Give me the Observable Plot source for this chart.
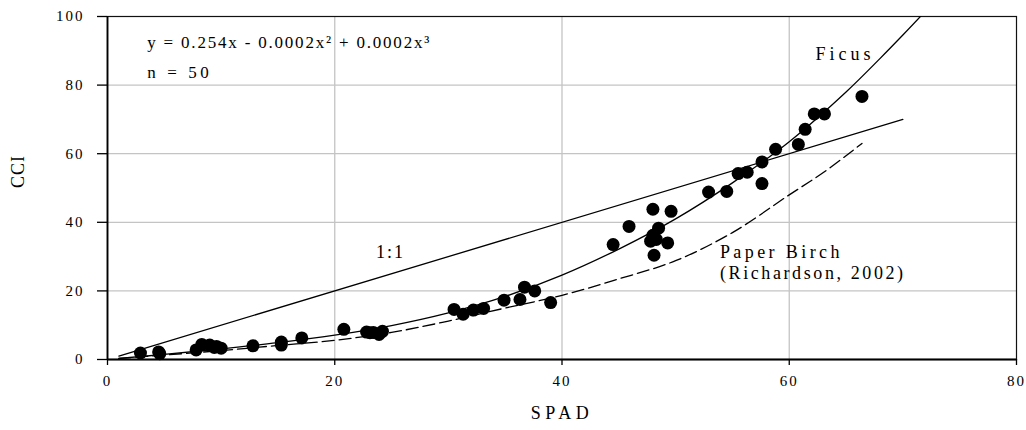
<!DOCTYPE html>
<html>
<head>
<meta charset="utf-8">
<script src="https://cdn.jsdelivr.net/npm/d3@7"></script>
<script src="https://cdn.jsdelivr.net/npm/@observablehq/plot@0.6"></script>
<style>
  html, body { margin: 0; padding: 0; background: #fff; }
  #chart svg { display: block; }
  #chart svg text { font-family: "Liberation Serif", "DejaVu Serif", "Times New Roman", serif !important; }
</style>
</head>
<body>
<div id="chart"></div>
<script>
// Measured points: SPAD (x) vs CCI (y)
const spad = [2.9, 4.5, 4.6, 7.8, 8.3, 9.0, 9.6, 10.0, 12.8, 15.3, 15.3, 17.1, 20.8, 22.8, 23.4, 23.9, 24.2,
  30.5, 31.3, 32.2, 33.1, 34.9, 36.3, 36.7, 37.6, 39.0, 44.5, 45.9, 48.0, 49.6, 48.5, 48.0, 47.8, 49.3, 48.1,
  52.9, 54.5, 55.5, 56.3, 57.6, 57.6, 58.8, 60.8, 61.4, 62.2, 63.1, 66.4, 9.4, 48.3, 23.1];
const cci = [1.9, 2.2, 1.7, 2.8, 4.4, 4.2, 3.8, 3.3, 4.0, 5.1, 4.2, 6.3, 8.8, 8.0, 7.9, 7.3, 8.2,
  14.6, 13.2, 14.4, 14.9, 17.3, 17.5, 21.1, 20.0, 16.6, 33.5, 38.8, 43.8, 43.2, 38.3, 36.2, 34.5, 34.0, 30.4,
  48.8, 49.0, 54.2, 54.6, 57.6, 51.3, 61.3, 62.7, 67.1, 71.6, 71.6, 76.7, 3.5, 35.0, 7.8];

// Ficus fitted curve
const ficusX = [1, 5, 10, 15, 20, 25, 30, 35, 40, 45, 50, 55, 60, 65, 68, 70, 71.8];
const ficusY = [0.3, 1.5, 3.1, 4.9, 7.1, 9.9, 13.6, 18.4, 24.6, 32.2, 41, 51.5, 63.5, 78, 87.8, 94.6, 100.9];

// Paper Birch curve (Richardson, 2002)
const birchX = [1, 5, 10, 15, 20, 25, 30, 35, 40, 45, 50, 55, 60, 63, 66.4];
const birchY = [0.3, 1.3, 2.6, 4.1, 5.6, 7.9, 11.2, 15.0, 18.7, 23.5, 28.8, 37, 48, 54.5, 63];

// 1:1 line
const oneX = [1, 70];
const oneY = [1, 70];

const xTicks = [0, 20, 40, 60, 80];
const yTicks = [0, 20, 40, 60, 80, 100];

const points = spad.map((x, i) => ({x, y: cci[i]}));
const ficus = ficusX.map((x, i) => ({x, y: ficusY[i]}));
const birch = birchX.map((x, i) => ({x, y: birchY[i]}));
const oneLine = oneX.map((x, i) => ({x, y: oneY[i]}));

const serif = "Liberation Serif, DejaVu Serif, serif";

const chart = Plot.plot({
  width: 1026,
  height: 430,
  marginLeft: 107,
  marginRight: 10,
  marginTop: 16,
  marginBottom: 71,
  style: {fontFamily: serif, fontSize: "15px", color: "#000", background: "#fff"},
  x: {domain: [0, 80]},
  y: {domain: [0, 100]},
  marks: [
    Plot.gridX(xTicks.slice(1, -1), {stroke: "#c4c4c4", strokeOpacity: 1, strokeWidth: 1.3}),
    Plot.gridY(yTicks.slice(1, -1), {stroke: "#c4c4c4", strokeOpacity: 1, strokeWidth: 1.3}),
    Plot.frame({stroke: "#111", strokeWidth: 1.2}),
    Plot.axisY(yTicks, {tickSize: 10, tickPadding: 13, label: null, strokeWidth: 1.3, fontSize: 15, fontFamily: serif}),
    Plot.axisX(xTicks, {tickSize: 6, tickPadding: 10, label: null, strokeWidth: 1.3, fontSize: 15, fontFamily: serif}),
    Plot.ruleX([0], {stroke: "#000", strokeWidth: 1.8}),
    Plot.ruleY([0], {stroke: "#000", strokeWidth: 1.8}),
    Plot.line(oneLine, {x: "x", y: "y", stroke: "#000", strokeWidth: 1.3}),
    Plot.line(ficus, {x: "x", y: "y", stroke: "#000", strokeWidth: 1.3, curve: "catmull-rom", clip: "frame"}),
    Plot.line(birch, {x: "x", y: "y", stroke: "#000", strokeWidth: 1.3, curve: "catmull-rom", strokeDasharray: "12,5"}),
    Plot.dot(points, {x: "x", y: "y", r: 6.5, fill: "#000", stroke: "none"}),
    Plot.text([{x: 3.5, y: 92.4, t: "y = 0.254x - 0.0002x\u00B2 + 0.0002x\u00B3"}], {x: "x", y: "y", text: "t", textAnchor: "start", fontSize: 17, fontFamily: serif, fill: "#000"}),
    Plot.text([{x: 3.5, y: 83.7, t: "n = 50"}], {x: "x", y: "y", text: "t", textAnchor: "start", fontSize: 17, fontFamily: serif, fill: "#000"}),
    Plot.text([{x: 24.9, y: 31.2, t: "1:1"}], {x: "x", y: "y", text: "t", fontSize: 18, fontFamily: serif, fill: "#000"}),
    Plot.text([{x: 62.3, y: 88.9, t: "Ficus"}], {x: "x", y: "y", text: "t", textAnchor: "start", fontSize: 18, fontFamily: serif, fill: "#000"}),
    Plot.text([{x: 53.9, y: 31.3, t: "Paper Birch"}], {x: "x", y: "y", text: "t", textAnchor: "start", fontSize: 18, fontFamily: serif, fill: "#000"}),
    Plot.text([{x: 53.9, y: 25.2, t: "(Richardson, 2002)"}], {x: "x", y: "y", text: "t", textAnchor: "start", fontSize: 18, fontFamily: serif, fill: "#000"}),
    Plot.text(["SPAD"], {text: d => d, frameAnchor: "bottom", dy: 59, fontSize: 18, fontFamily: serif, fill: "#000"}),
    Plot.text(["CCI"], {text: d => d, frameAnchor: "left", dx: -89, rotate: -90, fontSize: 18, fontFamily: serif, fill: "#000"})
  ]
});

document.getElementById("chart").appendChild(chart);

// letter spacing to imitate the original typesetting
const spacing = {
  "y = 0.254x - 0.0002x\u00B2 + 0.0002x\u00B3": 1.8,
  "n = 50": 3.6,
  "1:1": 2,
  "Ficus": 4,
  "Paper Birch": 3.4,
  "(Richardson, 2002)": 2.6,
  "SPAD": 4.5,
  "CCI": 1
};
d3.select(chart).selectAll("text").each(function () {
  const t = this.textContent;
  const ls = spacing[t] !== undefined ? spacing[t] : 2;
  this.setAttribute("letter-spacing", ls + "px");
  this.setAttribute("font-family", "Liberation Serif");
  this.style.setProperty("font-family", "\"Liberation Serif\", \"DejaVu Serif\", serif", "important");
});
</script>
</body>
</html>
